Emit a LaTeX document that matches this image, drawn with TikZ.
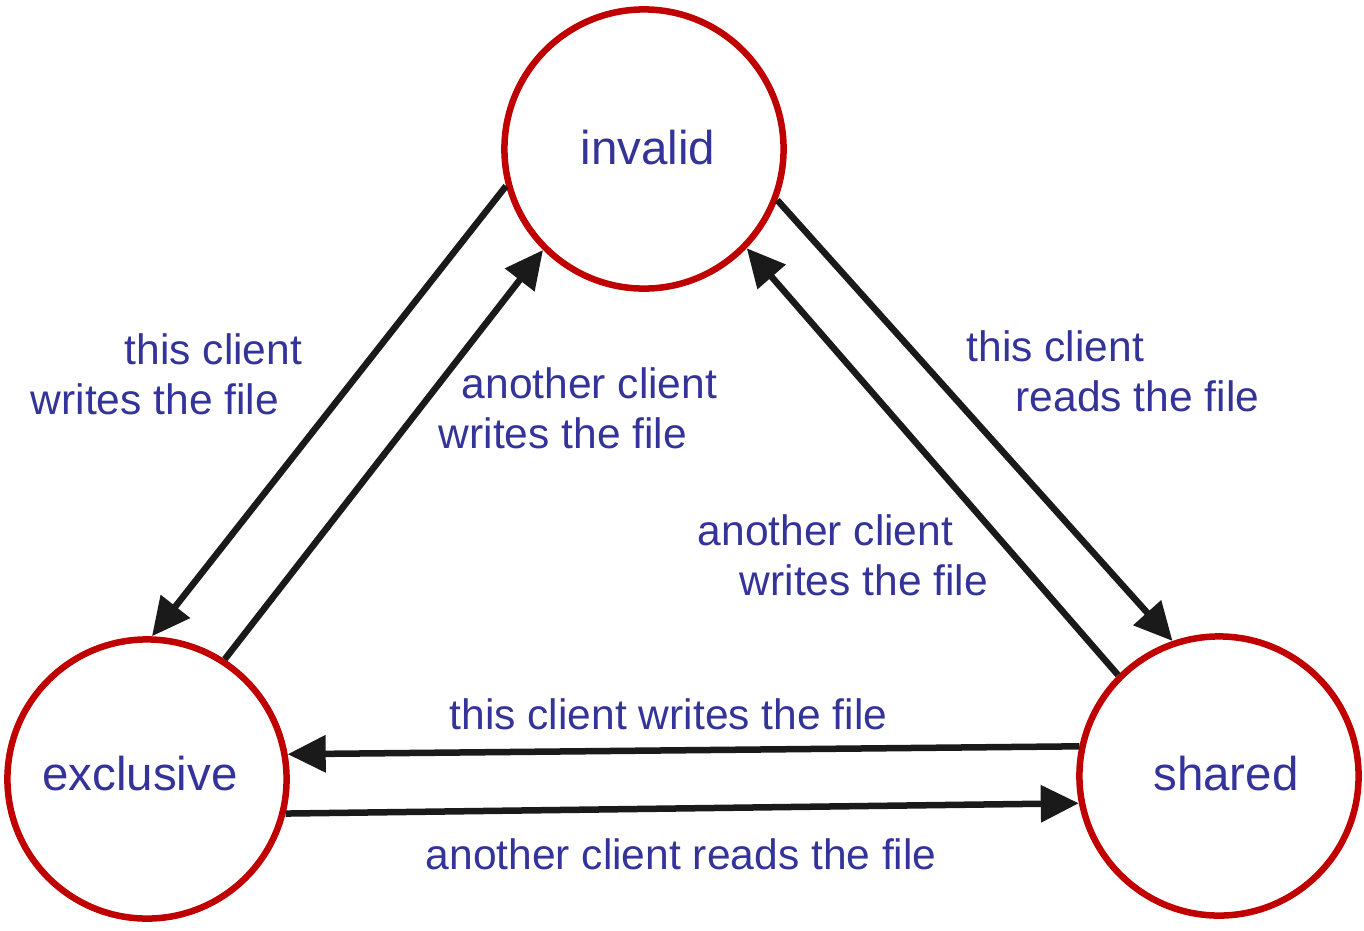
\documentclass[tikz,border=0pt]{standalone}
\usepackage{fontspec}
\setmainfont{Liberation Sans}
\usetikzlibrary{arrows.meta}
\definecolor{statered}{HTML}{C00000}
\definecolor{labelblue}{HTML}{333399}
\definecolor{arrowblack}{HTML}{1A1A1A}
\begin{document}
\begin{tikzpicture}[x=0.01cm,y=-0.01cm,
  state/.style={circle,draw=statered,line width=0.065cm,minimum size=2.79cm,
    inner sep=0pt,text=labelblue,font=\fontsize{13.5pt}{16pt}\selectfont},
  trans/.style={draw=arrowblack,line width=0.065cm,
    -{Triangle[length=0.38cm,width=0.36cm]}},
  lbl/.style={text=labelblue,font=\fontsize{12.1pt}{0.5cm}\selectfont,
    align=left,anchor=north west,inner sep=0pt}]
\useasboundingbox (0,0) rectangle (1364,930);

% states
\node[state] (inv) at (644,149) {\raisebox{0.03cm}{\hspace*{0.08cm}invalid}};
\node[state] (exc) at (147,779) {\raisebox{0.12cm}{exclusive\hspace*{0.14cm}}};
\node[state] (sha) at (1219,776) {\raisebox{0.05cm}{\hspace*{0.14cm}shared}};

% transitions
\draw[trans] (inv.195.7) -- (exc.88.8);
\draw[trans] (exc.57.1) -- (inv.225.6);
\draw[trans] (inv.-21.3) -- (sha.109.1);
\draw[trans] (sha.135) -- (inv.-44.7);
\draw[trans] (sha.168.8) -- (exc.10.7);
\draw[trans] (exc.-14.5) -- (sha.191.5);

% transition labels
\node[lbl] (l1) at (30,333) {\hspace*{0.94cm}this client\\writes the file};
\node[lbl] (l2) at (438,367) {\hspace*{0.23cm}another client\\writes the file};
\node[lbl] (l3) at (966,330) {this client\\\hspace*{0.49cm}reads the file};
\node[lbl] (l4) at (697,514) {another client\\\hspace*{0.42cm}writes the file};
\node[lbl] (l5) at (449,698) {this client writes the file};
\node[lbl] (l6) at (425,838) {another client reads the file};
\end{tikzpicture}
\end{document}
